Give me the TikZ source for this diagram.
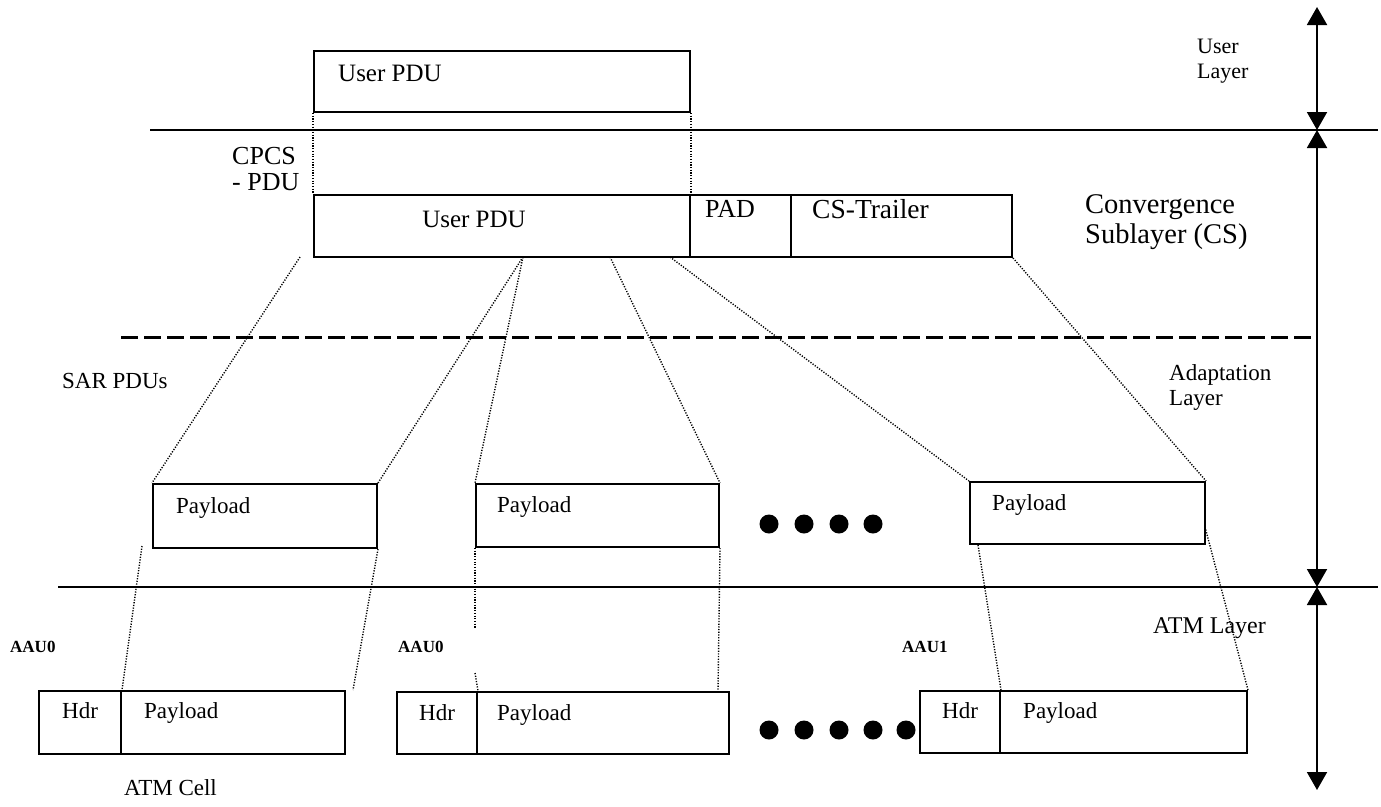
\documentclass[tikz,border=0pt]{standalone}
\usepackage{fontspec}
\setmainfont{Liberation Serif}
\usetikzlibrary{arrows.meta}

\begin{document}
\begin{tikzpicture}[x=1pt,y=-1pt,
  box/.style={draw, line width=2pt, anchor=north west, inner sep=0pt, minimum height=62pt},
  link/.style={line width=1.4pt, dash pattern=on 1.2pt off 1.5pt},
  rule/.style={line width=2pt},
  cut/.style={line width=3pt, dash pattern=on 17pt off 6pt},
  dot/.style={fill, circle, minimum size=19pt, inner sep=0pt},
  txt/.style={inner sep=0pt, anchor=base west},
  big/.style={txt, font=\fontsize{26}{30}\selectfont},
  mid/.style={txt, font=\fontsize{25}{29}\selectfont},
  small/.style={txt, font=\fontsize{23}{27}\selectfont},
  tag/.style={txt, font=\bfseries\fontsize{17}{20}\selectfont},
  span/.style={line width=2pt, {Triangle[width=20pt,length=18pt]}-{Triangle[width=20pt,length=18pt]}}
]
\useasboundingbox (0,0) rectangle (1381,806);

% layer boundaries
\draw[rule] (150,130) -- (1378,130);
\draw[cut] (121,337) -- (1317,337);
\draw[rule] (58,587) -- (1378,587);

% layer extent arrows
\coordinate (a0) at (1317,7);
\coordinate (a1) at (1317,130);
\coordinate (a2) at (1317,587);
\coordinate (a3) at (1317,790);
\draw[span] (a0) -- (a1);
\draw[span] (a1) -- (a2);
\draw[span] (a2) -- (a3);

% user PDU
\node[box, minimum width=376pt, minimum height=61pt] (top) at (313,50) {};
\node[mid] (topt) at (338,81) {User PDU};

% CPCS-PDU
\node[box, minimum width=376pt] (cu) at (313,194) {};
\node[box, minimum width=101pt] (cp) at (689,194) {};
\node[box, minimum width=221pt] (ct) at (790,194) {};
\node[mid, anchor=base] (cut) at (474,227) {User PDU};
\node[big, anchor=base] (cpt) at (730,217) {PAD};
\node[txt, font=\fontsize{27.5}{31}\selectfont] (ctt) at (812,218) {CS-Trailer};

% SAR PDUs
\node[box, minimum width=224pt, minimum height=64pt] (p1) at (152,483) {};
\node[box, minimum width=243pt, minimum height=63pt] (p2) at (475,483) {};
\node[box, minimum width=235pt, minimum height=62pt] (p3) at (969,481) {};
\node[small] (p1t) at (176,513) {Payload};
\node[small] (p2t) at (497,512) {Payload};
\node[small] (p3t) at (992,510) {Payload};

% ATM cells
\node[box, minimum width=82pt, minimum height=63pt] (c1h) at (38,690) {};
\node[box, minimum width=224pt, minimum height=63pt] (c1p) at (120,690) {};
\node[box, minimum width=80pt, minimum height=62pt] (c2h) at (396,691) {};
\node[box, minimum width=252pt, minimum height=62pt] (c2p) at (476,691) {};
\node[box, minimum width=80pt, minimum height=62pt] (c3h) at (919,690) {};
\node[box, minimum width=247pt, minimum height=62pt] (c3p) at (999,690) {};
\node[small] (c1ht) at (62,718) {Hdr};
\node[small] (c1pt) at (144,718) {Payload};
\node[small] (c2ht) at (419,720) {Hdr};
\node[small] (c2pt) at (497,720) {Payload};
\node[small] (c3ht) at (942,718) {Hdr};
\node[small] (c3pt) at (1023,718) {Payload};

% ellipses
\foreach \i/\x in {1/769,2/804,3/839,4/873}
  \node[dot] (ua\i) at (\x,524) {};
\foreach \i/\x in {1/769,2/804,3/839,4/873,5/906}
  \node[dot] (ub\i) at (\x,730) {};

% segmentation links
\coordinate (s0) at (300,257);
\coordinate (s1) at (523,257);
\coordinate (s2) at (610,257);
\coordinate (s3) at (670,257);
\draw[link] (top.south west) -- (cu.north west);
\draw[link] (top.south east) -- (cu.north east);
\draw[link] (s0) -- (p1.north west);
\draw[link] (s1) -- (p1.north east);
\draw[link] (s1) -- (p2.north west);
\draw[link] (s2) -- (p2.north east);
\draw[link] (s3) -- (p3.north west);
\draw[link] (ct.south east) -- (p3.north east);

\coordinate (b0) at (142,546);
\coordinate (e1) at (353,690);
\coordinate (e2) at (475,628);
\coordinate (e2b) at (475,673);
\coordinate (e3) at (718,691);
\coordinate (b3) at (978,545);
\coordinate (b4) at (1205,527);
\draw[link] (b0) -- (c1h.north east);
\draw[link] (p1.south east) -- (e1);
\draw[link] (p2.south west) -- (e2);
\draw[link] (e2b) -- (c2h.north east);
\draw[link] (p2.south east) -- (e3);
\draw[link] (b3) -- (c3h.north east);
\draw[link] (b4) -- (c3p.north east);

% labels
\node[big] (cpcs1) at (232,164) {CPCS};
\node[big] (cpcs2) at (232,190) {- PDU};
\node[txt, font=\fontsize{22}{26}\selectfont] (ul1) at (1197,53) {User};
\node[txt, font=\fontsize{22}{26}\selectfont] (ul2) at (1197,78) {Layer};
\node[txt, font=\fontsize{28.5}{32}\selectfont] (cs1) at (1085,213) {Convergence};
\node[txt, font=\fontsize{28.5}{32}\selectfont] (cs2) at (1085,243) {Sublayer (CS)};
\node[small] (al1) at (1169,380) {Adaptation};
\node[small] (al2) at (1169,405) {Layer};
\node[small] (sar) at (62,388) {SAR PDUs};
\node[txt, font=\fontsize{24}{28}\selectfont] (atm) at (1153,633) {ATM Layer};
\node[small] (cell) at (124,795) {ATM Cell};
\node[tag] (q1) at (10,652) {AAU0};
\node[tag] (q2) at (398,652) {AAU0};
\node[tag] (q3) at (902,652) {AAU1};
\end{tikzpicture}
\end{document}
